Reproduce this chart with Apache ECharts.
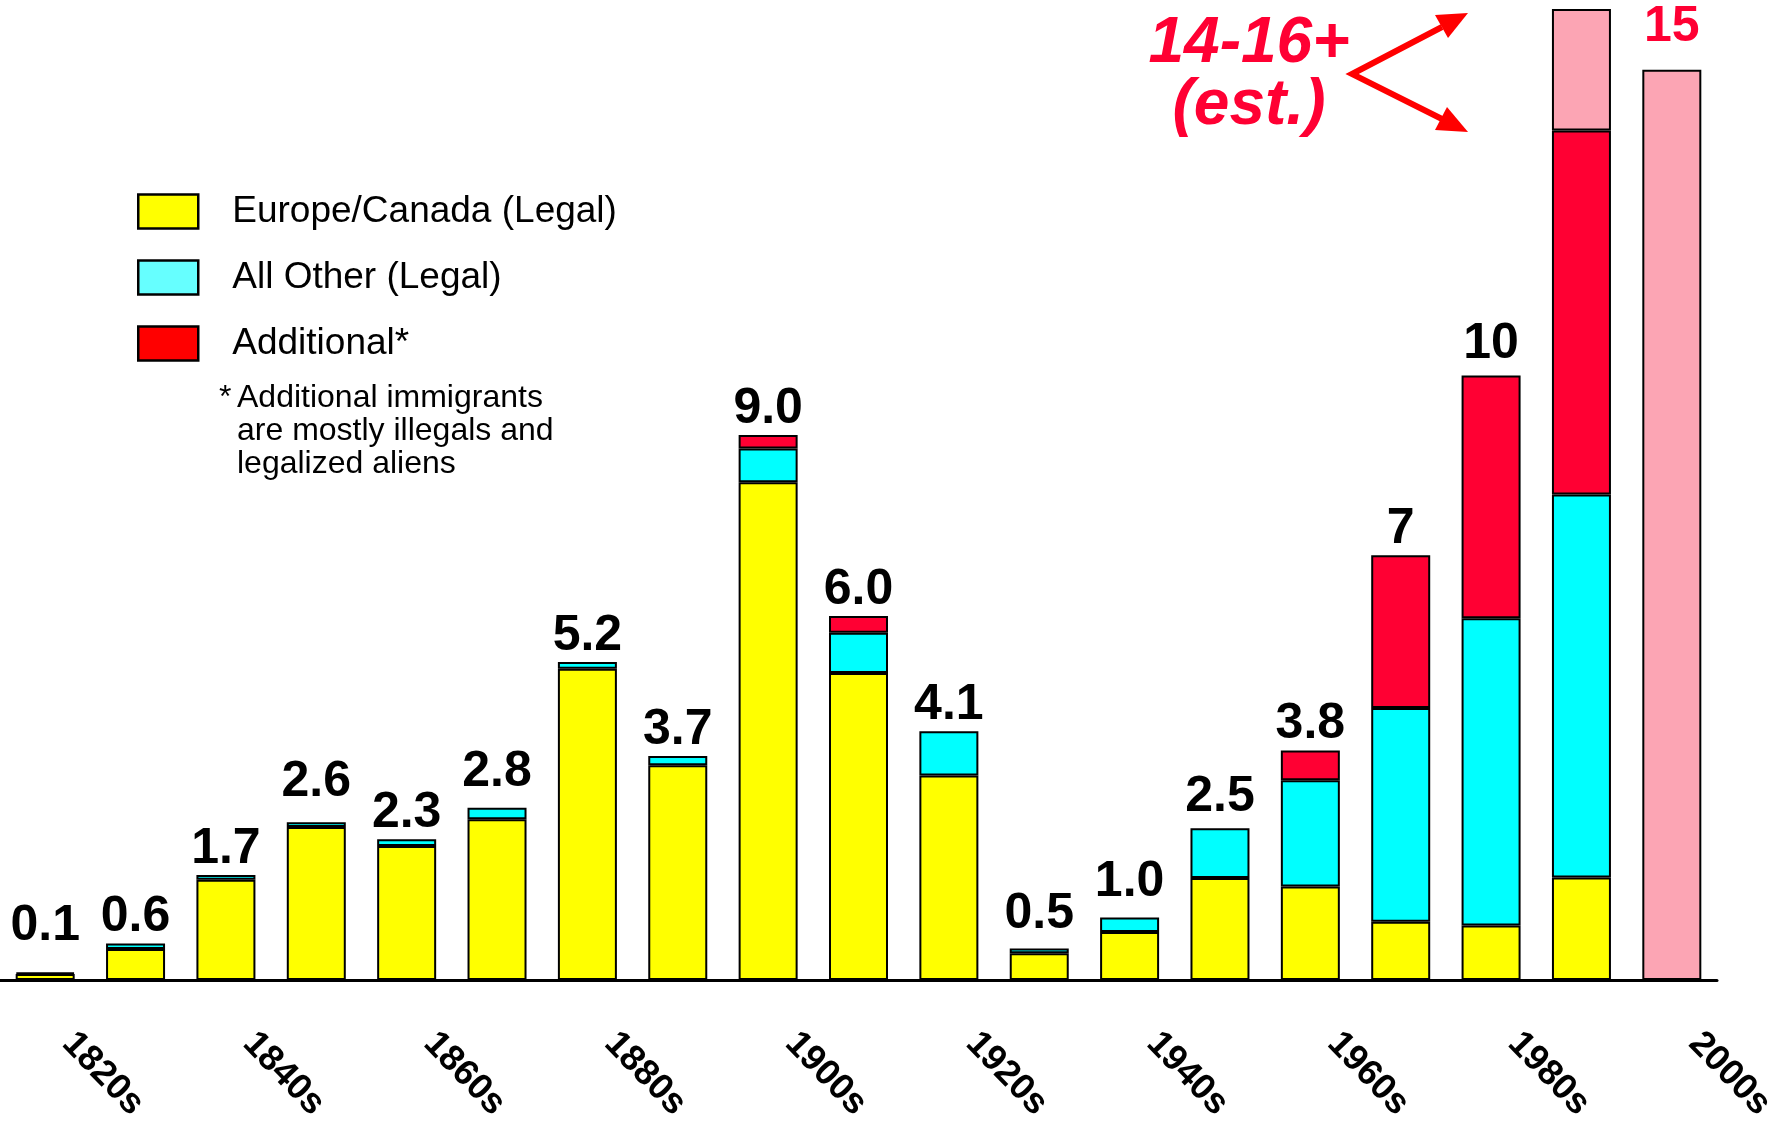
<!DOCTYPE html>
<html>
<head>
<meta charset="utf-8">
<title>Immigration by decade</title>
<script src="https://cdn.jsdelivr.net/npm/echarts@6/dist/echarts.min.js"></script>
<style>
    html, body { margin: 0; padding: 0; background: #fff; }
    #chart { width: 1782px; height: 1127px; }
</style>
</head>
<body>
<div id="chart"></div>
<script>
// decades on the x axis (only every other one is labelled)
const decades = ['1820s', '1830s', '1840s', '1850s', '1860s', '1870s', '1880s', '1890s', '1900s', '1910s',
    '1920s', '1930s', '1940s', '1950s', '1960s', '1970s', '1980s', '1990s', '2000s'];

// millions of immigrants per decade, by group
const europeLegal = [0.1, 0.51, 1.65, 2.52, 2.21, 2.65, 5.13, 3.54, 8.2, 5.06, 3.37, 0.44, 0.79, 1.68, 1.54, 0.96, 0.9, 1.69, null];
const otherLegal = [0.02, 0.09, 0.08, 0.08, 0.11, 0.19, 0.11, 0.15, 0.56, 0.66, 0.73, 0.08, 0.24, 0.82, 1.75, 3.52, 5.06, 6.31, null];
const additional = [null, null, null, null, null, null, null, null, 0.22, 0.28, null, null, null, null, 0.49, 2.52, 4.0, 6.0, null];
const estimated = [null, null, null, null, null, null, null, null, null, null, null, null, null, null, null, null, null, 2.0, 15.0];

// printed totals above the bars
const totalLabels = ['0.1', '0.6', '1.7', '2.6', '2.3', '2.8', '5.2', '3.7', '9.0', '6.0', '4.1', '0.5', '1.0', '2.5', '3.8', '7', '10', '', '15'];

const FONT = '"Liberation Sans", Arial, Helvetica, sans-serif';
const RED = '#FF0033';

// the totals were placed by hand in the original, some sit higher than others
const labelLift = { '1820s': 21, '1850s': 15, '1870s': 10, '1930s': 9, '1940s': 10, '1950s': 6, '1980s': 6, '2000s': 17 };

function barSeries(name, data, color) {
    return {
        name: name,
        type: 'bar',
        stack: 'total',
        barWidth: 59,
        data: data,
        itemStyle: {
            color: color,
            borderColor: '#000',
            borderWidth: 2,
        },
    };
}

function getOption() {
    // zero-height bar sitting on top of each stack, only used to carry the total label
    const totals = decades.map(function (d) {
        const item = { value: 0, label: { distance: labelLift[d] || 1 } };
        if (d === '2000s') {
            item.label.color = RED;
        }
        return item;
    });

    return {
        animation: false,
        backgroundColor: '#fff',
        grid: { left: -11, right: 65, top: 9, bottom: 147 },
        legend: {
            orient: 'vertical',
            left: 132,
            top: 188,
            itemWidth: 60,
            itemHeight: 34,
            itemGap: 29,
            icon: 'rect',
            selectedMode: false,
            itemStyle: { borderColor: '#000', borderWidth: 2.5 },
            textStyle: { fontFamily: FONT, fontSize: 37, color: '#000', padding: [0, 0, 0, 29] },
            data: [
                { name: 'Europe/Canada (Legal)', itemStyle: { color: '#FFFF00' } },
                { name: 'All Other (Legal)', itemStyle: { color: '#66FFFF' } },
                { name: 'Additional*', itemStyle: { color: '#FF0000' } },
            ],
        },
        xAxis: {
            type: 'category',
            data: decades,
            axisLine: { lineStyle: { color: '#000', width: 3 } },
            axisTick: { show: false },
            axisLabel: {
                interval: 1,
                rotate: -46,
                margin: 34,
                padding: [0, 0, 0, 33],
                fontFamily: FONT,
                fontSize: 36,
                fontWeight: 'bold',
                color: '#000',
            },
        },
        yAxis: { type: 'value', min: 0, max: 16, show: false },
        series: [
            barSeries('Europe/Canada (Legal)', europeLegal, '#FFFF00'),
            barSeries('All Other (Legal)', otherLegal, '#00FFFF'),
            barSeries('Additional*', additional, RED),
            barSeries('Estimated', estimated, '#FCA5B4'),
            {
                name: 'Total',
                type: 'bar',
                stack: 'total',
                barWidth: 59,
                data: totals,
                itemStyle: { color: 'transparent', borderWidth: 0 },
                label: {
                    show: true,
                    position: 'top',
                    fontFamily: FONT,
                    fontSize: 50,
                    fontWeight: 'bold',
                    color: '#000',
                    formatter: function (p) { return totalLabels[p.dataIndex]; },
                },
            },
        ],
        graphic: [
            // footnote under the legend
            {
                type: 'text', left: 219, top: 382,
                style: { text: '*', font: '32px ' + FONT, fill: '#000' },
            },
            {
                type: 'text', left: 237, top: 382,
                style: {
                    text: 'Additional immigrants\nare mostly illegals and\nlegalized aliens',
                    font: '32px ' + FONT, lineHeight: 33, fill: '#000',
                },
            },
            // estimate note for the 1990s
            {
                type: 'text', x: 1249, y: 44,
                style: { text: '14-16+', font: 'italic bold 64px ' + FONT, fill: RED, align: 'center', verticalAlign: 'middle' },
            },
            {
                type: 'text', x: 1249, y: 106,
                style: { text: '(est.)', font: 'italic bold 64px ' + FONT, fill: RED, align: 'center', verticalAlign: 'middle' },
            },
            {
                type: 'polyline',
                shape: { points: [[1442, 27], [1352, 74], [1442, 119]] },
                style: { stroke: '#FF0000', lineWidth: 6, fill: null },
            },
            {
                type: 'polygon',
                shape: { points: [[1468, 13], [1448, 38], [1435, 15]] },
                style: { fill: '#FF0000' },
            },
            {
                type: 'polygon',
                shape: { points: [[1468, 132], [1435, 130], [1447, 107]] },
                style: { fill: '#FF0000' },
            },
        ],
    };
}

const chart = echarts.init(document.getElementById('chart'));
chart.setOption(getOption());
</script>
</body>
</html>
